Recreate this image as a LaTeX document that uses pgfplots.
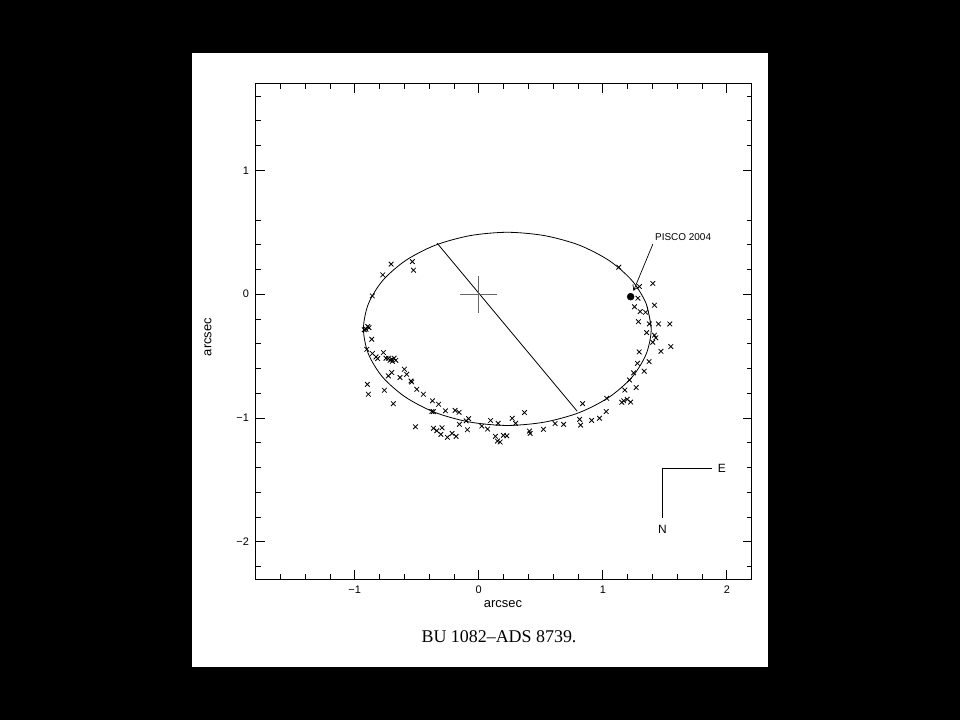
\documentclass[border=0pt]{standalone}
\usepackage{fontspec}
\setmainfont{Liberation Sans}
\newfontfamily\capfont{Liberation Serif}
\usepackage{pgfplots}
\pgfplotsset{compat=1.18}
\usetikzlibrary{arrows.meta}
\begin{document}
\begin{tikzpicture}
\fill[black] (0bp,0bp) rectangle (960bp,720bp);
\fill[white] (192bp,53bp) rectangle (768bp,667bp);
\begin{axis}[
  at={(255.5bp,141bp)}, anchor=south west,
  scale only axis, width=496.2bp, height=495.3bp,
  xmin=-1.8, xmax=2.2, ymin=-2.3, ymax=1.7,
  xtick={-1,0,1,2}, xticklabels={−1,0,1,2},
  ytick={-2,-1,0,1}, yticklabels={−2,−1,0,1},
  minor xtick={-1.8,-1.6,-1.4,-1.2,-0.8,-0.6,-0.4,-0.2,0.2,0.4,0.6,0.8,1.2,1.4,1.6,1.8,2.2},
  minor ytick={-2.2,-1.8,-1.6,-1.4,-1.2,-0.8,-0.6,-0.4,-0.2,0.2,0.4,0.6,1.2,1.4,1.6},
  tick align=inside, xtick pos=both, ytick pos=both,
  major tick length=9bp, minor tick length=5bp,
  tick style={black, line width=0.8bp},
  axis line style={line width=0.9bp},
  ticklabel style={font=\fontsize{11}{13}\selectfont},
  xticklabel style={yshift=-3bp},
  yticklabel style={xshift=-3bp},
]
% orbit ellipse
\addplot[black, line width=0.8bp, smooth] coordinates {
(1.39,-0.28) (1.350,-0.078) (1.235,0.11) (1.050,0.272) (0.81,0.396) (0.530,0.473)
(0.23,0.50) (-0.070,0.473) (-0.35,0.396) (-0.590,0.272) (-0.775,0.11) (-0.890,-0.078)
(-0.93,-0.28) (-0.890,-0.482) (-0.775,-0.67) (-0.590,-0.832) (-0.35,-0.956) (-0.070,-1.033)
(0.23,-1.06) (0.530,-1.033) (0.81,-0.956) (1.050,-0.832) (1.235,-0.67) (1.350,-0.482)
(1.39,-0.28) (1.350,-0.078)};
% line of apsides through origin
\addplot[black, line width=0.8bp] coordinates {(-0.336,0.412) (0.793,-0.945)};
% primary cross
\addplot[black!60, line width=1bp] coordinates {(-0.15,0) (0.15,0)};
\addplot[black!60, line width=1bp] coordinates {(0,-0.15) (0,0.15)};
% observations
\addplot[only marks, mark=x, mark size=3.3bp, mark options={line width=0.8bp, black}] coordinates {
(-0.707,0.243) (-0.774,0.156) (-0.535,0.263) (-0.527,0.194) (-0.858,-0.014)
(-0.895,-0.261) (-0.909,-0.283) (-0.923,-0.287) (-0.885,-0.271)
(-0.863,-0.364) (-0.903,-0.445) (-0.858,-0.479) (-0.828,-0.507) (-0.815,-0.520) (-0.769,-0.471)
(-0.748,-0.517) (-0.729,-0.517) (-0.715,-0.534) (-0.702,-0.525) (-0.683,-0.517) (-0.669,-0.534) (-0.697,-0.542)
(-0.702,-0.633) (-0.729,-0.660) (-0.635,-0.673) (-0.600,-0.606) (-0.581,-0.647)
(-0.546,-0.701) (-0.540,-0.709) (-0.500,-0.768) (-0.447,-0.808)
(-0.898,-0.728) (-0.890,-0.808) (-0.761,-0.776) (-0.689,-0.884)
(-0.374,-0.861) (-0.324,-0.889) (-0.379,-0.948) (-0.366,-0.948) (-0.269,-0.942)
(-0.191,-0.938) (-0.159,-0.954) (-0.156,-1.051) (-0.102,-1.023) (-0.082,-1.005) (-0.092,-1.095)
(-0.511,-1.071) (-0.366,-1.083) (-0.339,-1.103) (-0.296,-1.079)
(-0.306,-1.132) (-0.253,-1.156) (-0.215,-1.124) (-0.183,-1.148)
(0.024,-1.065) (0.071,-1.089) (0.095,-1.020) (0.156,-1.043)
(0.134,-1.148) (0.150,-1.186) (0.172,-1.194) (0.198,-1.140) (0.226,-1.144)
(0.269,-1.002) (0.297,-1.043) (0.368,-0.956) (0.408,-1.105) (0.414,-1.124)
(0.521,-1.091) (0.615,-1.045) (0.684,-1.051) (0.813,-1.011) (0.821,-1.057) (0.837,-0.884)
(0.910,-1.019) (0.973,-1.002) (1.027,-0.948) (1.031,-0.841)
(1.153,-0.873) (1.168,-0.861) (1.196,-0.849) (1.224,-0.871)
(1.177,-0.774) (1.269,-0.754) (1.215,-0.693) (1.248,-0.635) (1.333,-0.622)
(1.279,-0.558) (1.373,-0.544) (1.293,-0.466) (1.468,-0.461) (1.548,-0.423)
(1.416,-0.331) (1.427,-0.352) (1.402,-0.388) (1.353,-0.310) (1.287,-0.222)
(1.375,-0.240) (1.448,-0.240) (1.540,-0.240) (1.301,-0.140) (1.345,-0.146)
(1.255,-0.101) (1.416,-0.089) (1.283,-0.032) (1.295,0.062) (1.403,0.087) (1.129,0.218)
};
% PISCO 2004 measurement
\addplot[only marks, mark=*, mark size=3.5bp, mark options={black}] coordinates {(1.224,-0.02)};
\draw[line width=0.7bp, -{Straight Barb[length=5bp,width=6bp]}] (axis cs:1.403,0.404) -- (axis cs:1.247,0.027);
\node[anchor=west, inner sep=0pt, font=\fontsize{10}{12}\selectfont] at (axis cs:1.42,0.461) {PISCO 2004};
% orientation
\draw[line width=0.8bp] (axis cs:1.879,-1.409) -- (axis cs:1.481,-1.409) -- (axis cs:1.481,-1.805);
\node[inner sep=0pt, font=\fontsize{12}{14}\selectfont] at (axis cs:1.96,-1.407) {E};
\node[inner sep=0pt, font=\fontsize{12}{14}\selectfont] at (axis cs:1.481,-1.90) {N};
\end{axis}
\node[font=\fontsize{13}{15}\selectfont] at (503bp,116bp) {arcsec};
\node[font=\fontsize{13}{15}\selectfont, rotate=90] at (208bp,383bp) {arcsec};
\node[font=\capfont\fontsize{18}{21}\selectfont] at (499bp,83bp) {BU 1082–ADS 8739.};
\end{tikzpicture}
\end{document}
